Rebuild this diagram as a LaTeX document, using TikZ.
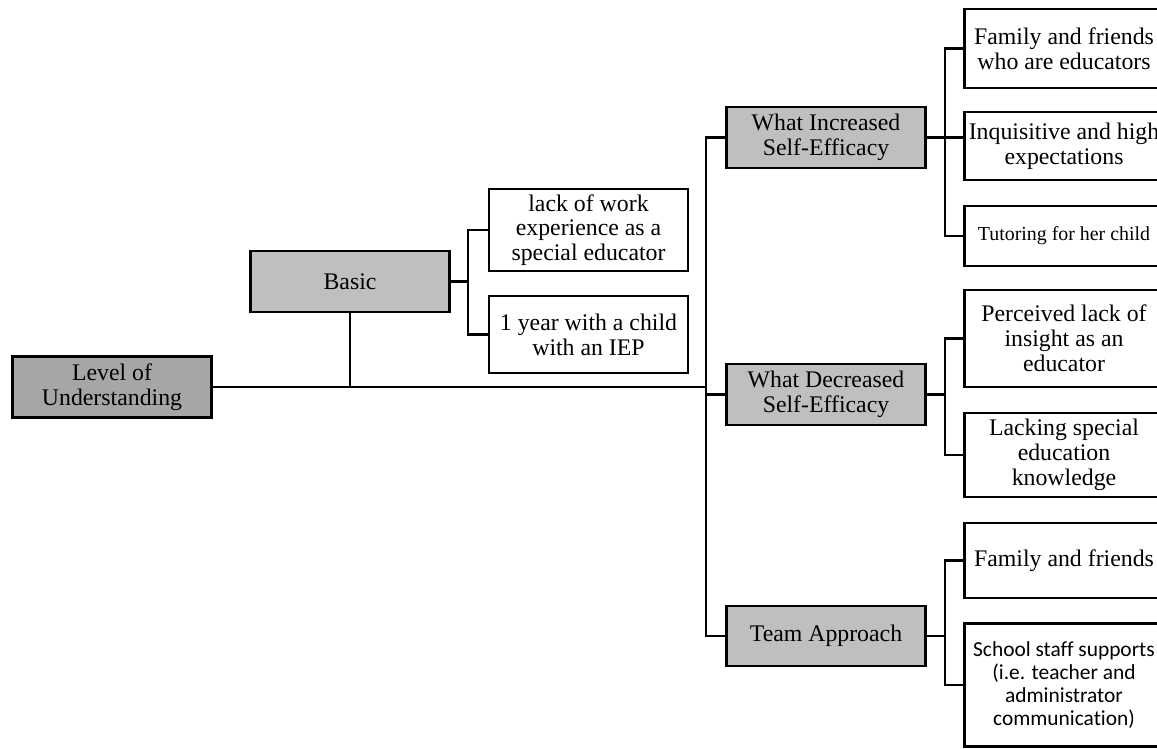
\documentclass[tikz,border=0pt]{standalone}
\usepackage{fontspec}
\setmainfont{Liberation Serif}
\newfontfamily\calibri[Ligatures=NoCommon]{Carlito}
\definecolor{darkbox}{HTML}{A6A6A6}
\definecolor{lightbox}{HTML}{BFBFBF}
\begin{document}
\begin{tikzpicture}[x=1pt,y=-1pt,
  box/.style={draw=black,line width=2.5pt,inner sep=0pt,align=center,minimum width=199pt,
    font=\fontsize{23.8}{24.8}\selectfont},
  gbox/.style={box,fill=lightbox},
  link/.style={line width=2.7pt,line cap=rect}]
\useasboundingbox (0,0) rectangle (1157,748);
\clip (0,0) rectangle (1157,748);
% main boxes
\node[box,fill=darkbox,minimum height=61pt] (lou) at (112,387) {Level of\\Understanding};
\node[gbox,minimum height=61pt] (basic) at (350,281.5) {Basic};
\node[box,minimum height=82pt] (b1) at (588.5,230) {lack of work\\experience as a\\special educator};
\node[box,minimum height=77pt] (b2) at (588.5,334.5) {1 year with a child\\with an IEP};
\node[gbox,minimum height=61pt] (wi) at (826,137.5) {What Increased\\Self-Efficacy};
\node[gbox,minimum height=61pt] (de) at (826,394.5) {What Decreased\\Self-Efficacy};
\node[gbox,minimum height=60pt] (ta) at (826,636) {Team Approach};
\node[box,minimum height=79pt] (r1) at (1064,48.5) {Family and friends\\who are educators};
\node[box,minimum height=68pt] (r2) at (1064,146) {Inquisitive and high\\expectations};
\node[box,minimum height=60pt,font=\fontsize{19.9}{22}\selectfont] (r3) at (1064,236) {Tutoring for her child};
\node[box,minimum height=97pt] (r4) at (1064,338.5) {Perceived lack of\\insight as an\\educator};
\node[box,minimum height=84pt] (r5) at (1064,455) {Lacking special\\education\\knowledge};
\node[box,minimum height=75pt] (r6) at (1064,560.5) {Family and friends};
\node[box,minimum height=123pt,font=\calibri\fontsize{21.4}{23}\selectfont] (r7) at (1064,685) {School staff supports\\(i.e. teacher and\\administrator\\communication)};
% trunk
\coordinate (tx) at (706,387);
\draw[link] (lou.east) -- (tx);
\draw[link] (basic.south) -- (basic.south |- tx);
\draw[link] (wi.west) -- (wi.west -| tx) -- (ta.west -| tx) -- (ta.west);
\draw[link] (de.west) -- (de.west -| tx);
% basic bracket
\coordinate (bx) at (468,0);
\draw[link] (basic.east) -- (basic.east -| bx);
\draw[link] (b1.west) -- (b1.west -| bx) -- (b2.west -| bx) -- (b2.west);
% right brackets
\coordinate (rx) at (945,0);
\draw[link] (wi.east) -- (r2.west |- wi.east);
\draw[link] (r1.west) -- (r1.west -| rx) -- (r3.west -| rx) -- (r3.west);
\draw[link] (de.east) -- (de.east -| rx);
\draw[link] (r4.west) -- (r4.west -| rx) -- (r5.west -| rx) -- (r5.west);
\draw[link] (ta.east) -- (ta.east -| rx);
\draw[link] (r6.west) -- (r6.west -| rx) -- (r7.west -| rx) -- (r7.west);
\end{tikzpicture}
\end{document}
